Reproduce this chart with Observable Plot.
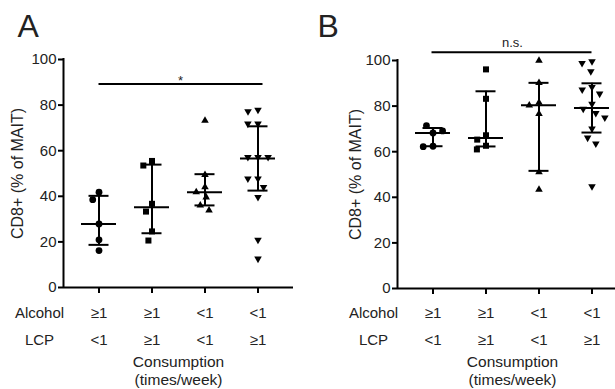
<!DOCTYPE html>
<html><head><meta charset="utf-8">
<script src="https://cdn.jsdelivr.net/npm/d3@7"></script>
<script src="https://cdn.jsdelivr.net/npm/@observablehq/plot@0.6"></script>
<style>
html,body{margin:0;padding:0;background:#fff;}
#wrap{position:relative;width:615px;height:389px;overflow:hidden;background:#fff;}
#wrap svg{position:absolute;top:0;}
g[aria-label="y-axis tick"], g[aria-label="x-axis tick"]{stroke:#000;stroke-width:2px;}
</style></head><body><div id="wrap"></div>
<script>
// ---- shared labels ----
const groups = ["g1", "g2", "g3", "g4"];
const alcoholLabels = ["≥1", "≥1", "<1", "<1"];
const lcpLabels = ["<1", "≥1", "<1", "≥1"];
const rowNames = ["Alcohol", "LCP"];
const yTicks = [0, 20, 40, 60, 80, 100];
const yTitle = "CD8+ (% of MAIT)";
const xTitle = "Consumption\n(times/week)";

// ---- panel A values (CD8+ % of MAIT) ----
const aG1 = [41.8, 38.5, 27.9, 20.9, 16.2];
const aG2 = [55.5, 53.5, 36.7, 33.3, 24.6, 20.6];
const aG3 = [73.2, 49.4, 44.0, 41.8, 39.6, 36.0, 33.8];
const aG4 = [57.2, 77.9, 77.2, 71.8, 71.8, 57.2, 57.2, 47.7, 47.7, 44.0, 39.6, 20.9, 12.6];
const medA = [27.9, 35.2, 41.8, 56.6];
const q1A = [18.7, 23.8, 36.0, 42.5];
const q3A = [40.2, 53.9, 49.7, 70.7];
const sigA = 89.3;
const sigLabelA = "*";

// ---- panel B values ----
const bG1 = [68.2, 71.4, 69.1, 62.4, 62.2];
const bG2 = [96.1, 83.2, 67.2, 65.3, 62.6, 61.0];
const bG3 = [100, 90.2, 81.5, 80.3, 76.6, 51.1, 43.4];
const bG4 = [99.6, 98.8, 95.2, 88.3, 87.2, 85.4, 81.0, 78.8, 76.9, 74.9, 70.1, 66.1, 63.5, 44.8];
const medB = [68.2, 66.0, 80.4, 79.2];
const q1B = [62.4, 62.3, 51.6, 68.4];
const q3B = [70.4, 86.5, 90.2, 90.0];
const sigB = 103.6;
const sigLabelB = "n.s.";

const triangleDown = {
  draw(ctx, size) {
    const s = Math.sqrt(size * 4 / Math.sqrt(3));
    const h = s * Math.sqrt(3) / 2;
    ctx.moveTo(-s / 2, -h / 3);
    ctx.lineTo(s / 2, -h / 3);
    ctx.lineTo(0, 2 * h / 3);
    ctx.closePath();
  }
};

function panel(o) {
  const H = 389;
  const x0 = o.ml, x1 = o.width - o.mr;
  const y0 = H - o.mb;
  const xOpts = {type: "point", domain: groups, padding: 0.67, align: 0.5, round: false};
  const xs = Plot.scale({x: {...xOpts, range: [x0, x1]}});
  const frameC = (x0 + x1) / 2;
  const stats = groups.map((g, i) => ({g, med: o.med[i], q1: o.q1[i], q3: o.q3[i]}));
  const rows = groups.map((g, i) => ({g, alc: alcoholLabels[i], lcp: lcpLabels[i]}));
  const symbols = ["circle", "square", "triangle", triangleDown];
  const radii = [3.4, 3.4, 2.8, 2.8];
  const pads = [3, 3, 4.5, 4.5];
  const dots = groups.map((g, i) =>
    Plot.dot(o.values[i].map((v) => ({v})),
      Plot.dodgeX({anchor: "middle", padding: pads[i]},
        {y: "v", r: radii[i], symbol: symbols[i], fill: "#000", stroke: "none", dx: xs.apply(g) - frameC})));
  const lw = 2;
  const bar = (key, half) => Plot.ruleY(stats, {x1: "g", x2: "g", y: key, stroke: "#000", strokeWidth: lw, insetLeft: -half, insetRight: -half});
  const txt = {fill: "#222", lineAnchor: "middle", textAnchor: "middle"};
  return Plot.plot({
    width: o.width, height: H,
    marginLeft: o.ml, marginRight: o.mr, marginTop: o.mt, marginBottom: o.mb,
    style: {fontFamily: "'Liberation Sans', Arial, sans-serif", fontSize: "15px", color: "#222", background: "transparent", overflow: "visible"},
    x: {...xOpts, tickSize: 6, tickFormat: () => "", label: null},
    y: {domain: [0, 100], ticks: yTicks, tickSize: 5, tickPadding: 2, label: null},
    marks: [
      Plot.ruleY([0], {stroke: "#000", strokeWidth: lw}),
      Plot.ruleX([groups[0]], {x: (d) => d, y1: 0, y2: 100, dx: x0 - xs.apply(groups[0]), stroke: "#000", strokeWidth: lw, strokeLinecap: "square"}),
      ...dots,
      Plot.ruleX(stats, {x: "g", y1: "q1", y2: "q3", stroke: "#000", strokeWidth: lw}),
      bar("med", 17.5),
      bar("q1", 10),
      bar("q3", 10),
      Plot.ruleY([{a: groups[0], b: groups[3], y: o.sig}], {x1: "a", x2: "b", y: "y", stroke: "#000", strokeWidth: lw, insetLeft: o.sigInsetLeft, insetRight: o.sigInsetRight}),
      Plot.text([{y: o.sig, t: o.sigLabel}], {y: "y", text: "t", lineAnchor: "bottom", dy: o.sigDy, dx: o.sigDx, fontSize: 13, fill: "#222"}),
      Plot.text([yTitle], {frameAnchor: "left", rotate: -90, dx: o.yLabelDx, fontSize: 16, ...txt}),
      Plot.text([o.letter], {frameAnchor: "top-left", textAnchor: "start", lineAnchor: "bottom", dx: o.letterDx, dy: 36 - o.mt, fontSize: 32, fill: "#222"}),
      Plot.text(rows, {x: "g", text: "alc", frameAnchor: "bottom", dy: 313 - y0, fontSize: 15, ...txt}),
      Plot.text(rows, {x: "g", text: "lcp", frameAnchor: "bottom", dy: 340 - y0, fontSize: 15, ...txt}),
      Plot.text([rowNames[0]], {frameAnchor: "bottom-left", dx: -24, dy: 313 - y0, fontSize: 15, ...txt}),
      Plot.text([rowNames[1]], {frameAnchor: "bottom-left", dx: -24, dy: 340 - y0, fontSize: 15, ...txt}),
      Plot.text([xTitle], {frameAnchor: "bottom", dy: 370 - y0, fontSize: 15.5, lineHeight: 1.17, ...txt})
    ]
  });
}

const wrap = document.getElementById("wrap");
const pA = panel({letter: "A", values: [aG1, aG2, aG3, aG4], med: medA, q1: q1A, q3: q3A,
  sig: sigA, sigLabel: sigLabelA, sigInsetLeft: 0, sigInsetRight: -5, sigDy: 1, sigDx: 2,
  width: 307, ml: 63, mr: 14, mt: 59, mb: 102, yLabelDx: -45.5, letterDx: -46});
pA.style.left = "0px";
wrap.appendChild(pA);
const pB = panel({letter: "B", values: [bG1, bG2, bG3, bG4], med: medB, q1: q1B, q3: q3B,
  sig: sigB, sigLabel: sigLabelB, sigInsetLeft: -1, sigInsetRight: 0, sigDy: -5, sigDx: 0,
  width: 320, ml: 90, mr: 0, mt: 60, mb: 101, yLabelDx: -42, letterDx: -80});
pB.style.left = "307px";
wrap.appendChild(pB);
</script></body></html>
